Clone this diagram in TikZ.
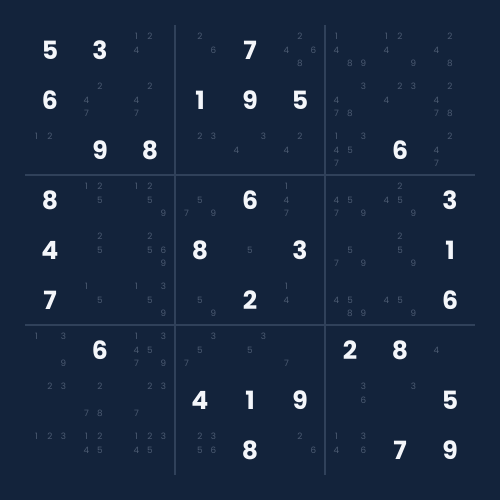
\documentclass[tikz,border=0pt]{standalone}
\usepackage{fontspec}
\setmainfont{Poppins}
\usepackage{xcolor}
\usepackage{tikz}
\usetikzlibrary{calc}
\definecolor{board}{HTML}{13233B}
\definecolor{rule}{HTML}{30415A}
\definecolor{mark}{HTML}{4C5B72}
\definecolor{given}{HTML}{F4F6FA}
\tikzset{
	given/.style={text=given, inner sep=0pt, font=\bfseries\fontsize{14.3}{14.3}\selectfont},
	pencil/.style={text=mark, inner sep=0pt, font=\fontsize{5}{5}\selectfont},
	boxline/.style={line width=0.65pt, draw=rule}
}

\begin{document}
\begin{tikzpicture}
	\useasboundingbox (0,0) rectangle (10,10);
	\fill[board] (0,0) rectangle (10,10);

	\coordinate[](Va) at (3.5,9.5);
	\coordinate[](Vaa) at (3.5,0.5);
	\coordinate[](Vb) at (6.5,9.5);
	\coordinate[](Vbb) at (6.5,0.5);
	\coordinate[](Ha) at (0.5,6.5);
	\coordinate[](Haa) at (9.5,6.5);
	\coordinate[](Hb) at (0.5,3.5);
	\coordinate[](Hbb) at (9.5,3.5);

	%% Box lines
	\draw[boxline] (Va) -- (Vaa);
	\draw[boxline] (Vb) -- (Vbb);
	\draw[boxline] (Ha) -- (Haa);
	\draw[boxline] (Hb) -- (Hbb);

	%% Givens
	\foreach \r/\c/\v in {0/0/5, 0/1/3, 0/4/7, 1/0/6, 1/3/1, 1/4/9, 1/5/5,
		2/1/9, 2/2/8, 2/7/6, 3/0/8, 3/4/6, 3/8/3, 4/0/4, 4/3/8, 4/5/3, 4/8/1,
		5/0/7, 5/4/2, 5/8/6, 6/1/6, 6/6/2, 6/7/8, 7/3/4, 7/4/1, 7/5/9, 7/8/5,
		8/4/8, 8/7/7, 8/8/9}
		\node[given] (g\r\c) at (1+\c,9-\r) {\v};

	%% Pencil marks
	\foreach \r/\c/\m in {0/2/{1,2,4}, 0/3/{2,6}, 0/5/{2,4,6,8}, 0/6/{1,4,8,9},
		0/7/{1,2,4,9}, 0/8/{2,4,8}, 1/1/{2,4,7}, 1/2/{2,4,7}, 1/6/{3,4,7,8},
		1/7/{2,3,4}, 1/8/{2,4,7,8}, 2/0/{1,2}, 2/3/{2,3}, 2/4/{3,4}, 2/5/{2,4},
		2/6/{1,3,4,5,7}, 2/8/{2,4,7},
		3/1/{1,2,5}, 3/2/{1,2,5,9}, 3/3/{5,7,9}, 3/5/{1,4,7}, 3/6/{4,5,7,9},
		3/7/{2,4,5,9}, 4/1/{2,5}, 4/2/{2,5,6,9}, 4/4/{5}, 4/6/{5,7,9},
		4/7/{2,5,9}, 5/1/{1,5}, 5/2/{1,3,5,9}, 5/3/{5,9}, 5/5/{1,4},
		5/6/{4,5,8,9}, 5/7/{4,5,9},
		6/0/{1,3,9}, 6/2/{1,3,4,5,7,9}, 6/3/{3,5,7}, 6/4/{3,5}, 6/5/{7},
		6/8/{4}, 7/0/{2,3}, 7/1/{2,7,8}, 7/2/{2,3,7}, 7/6/{3,6}, 7/7/{3},
		8/0/{1,2,3}, 8/1/{1,2,4,5}, 8/2/{1,2,3,4,5}, 8/3/{2,3,5,6},
		8/5/{2,6}, 8/6/{1,3,4,6}}
	{
		\foreach \k in \m {
			\pgfmathsetmacro\px{1+\c+(mod(\k-1,3)-1)*0.27}
			\pgfmathsetmacro\py{9-\r-(int((\k-1)/3)-1)*0.27}
			\node[pencil] (p\r\c\k) at (\px,\py) {\k};
		}
	}
\end{tikzpicture}
\end{document}
